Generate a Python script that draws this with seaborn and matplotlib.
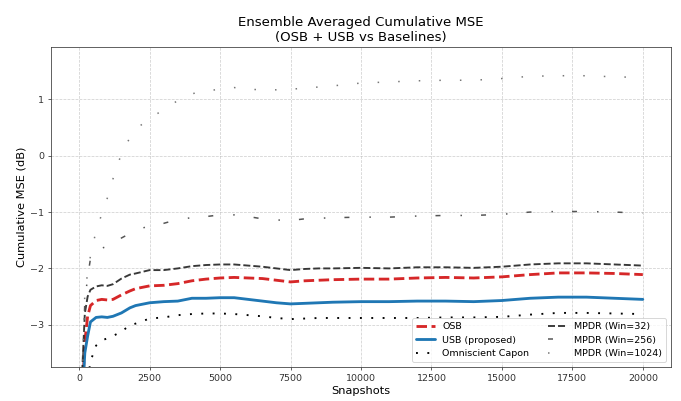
import matplotlib
matplotlib.use("Agg")
import matplotlib.pyplot as plt
import numpy as np
import pandas as pd
import seaborn as sns

# Snapshot index at which each cumulative MSE value is reported
snapshots = [0, 100, 200, 300, 400, 600, 800, 1000, 1200, 1500, 1800, 2000,
             2500, 3000, 3500, 4000, 4500, 5000, 5500, 6000, 6500, 7000, 7500,
             8000, 8500, 9000, 10000, 11000, 12000, 13000, 14000, 15000, 16000,
             17000, 18000, 19000, 20000]

# Cumulative MSE (dB) per method
osb = [-6.5, -4.4, -3.3, -2.85, -2.66, -2.57, -2.55, -2.56, -2.55, -2.47, -2.40, -2.36,
       -2.31, -2.30, -2.27, -2.22, -2.19, -2.17, -2.16, -2.17, -2.18, -2.21, -2.24,
       -2.22, -2.21, -2.20, -2.19, -2.19, -2.17, -2.16, -2.17, -2.15, -2.11,
       -2.08, -2.08, -2.09, -2.11]
usb = [-6.5, -4.4, -3.5, -3.2, -2.95, -2.87, -2.86, -2.87, -2.85, -2.79, -2.70, -2.66,
       -2.61, -2.59, -2.58, -2.53, -2.53, -2.52, -2.52, -2.55, -2.58, -2.61, -2.63,
       -2.62, -2.61, -2.60, -2.59, -2.59, -2.58, -2.58, -2.59, -2.57, -2.53,
       -2.51, -2.51, -2.53, -2.55]
capon = [-7.0, -5.5, -4.6, -4.0, -3.65, -3.37, -3.28, -3.24, -3.20, -3.12, -3.01, -2.98,
         -2.89, -2.87, -2.83, -2.81, -2.80, -2.80, -2.81, -2.83, -2.85, -2.88, -2.90,
         -2.89, -2.88, -2.88, -2.88, -2.88, -2.88, -2.87, -2.87, -2.86, -2.82,
         -2.79, -2.79, -2.80, -2.81]
mpdr_32 = [-6.5, -3.9, -2.8, -2.5, -2.38, -2.32, -2.30, -2.31, -2.28, -2.18, -2.11, -2.09,
           -2.03, -2.03, -2.00, -1.96, -1.94, -1.93, -1.93, -1.95, -1.97, -2.00, -2.03,
           -2.01, -2.00, -2.00, -1.99, -2.00, -1.98, -1.98, -1.99, -1.97, -1.93,
           -1.91, -1.91, -1.93, -1.95]
mpdr_256 = [-7.0, -4.0, -2.6, -2.15, -1.83, -1.66, -1.64, -1.61, -1.57, -1.46, -1.38, -1.33,
            -1.24, -1.20, -1.13, -1.10, -1.08, -1.05, -1.05, -1.08, -1.12, -1.14, -1.15,
            -1.12, -1.11, -1.10, -1.09, -1.09, -1.07, -1.06, -1.06, -1.04, -1.00,
            -0.99, -0.99, -1.00, -1.02]
mpdr_1024 = [-8.0, -4.2, -2.45, -2.08, -1.78, -1.33, -1.04, -0.75, -0.41, 0.04, 0.32, 0.47,
             0.66, 0.82, 0.98, 1.10, 1.15, 1.18, 1.21, 1.18, 1.17, 1.17, 1.18,
             1.20, 1.22, 1.24, 1.29, 1.31, 1.33, 1.34, 1.34, 1.37, 1.41,
             1.42, 1.42, 1.40, 1.39]

labels = ["OSB", "USB (proposed)", "Omniscient Capon",
          "MPDR (Win=32)", "MPDR (Win=256)", "MPDR (Win=1024)"]
series = [osb, usb, capon, mpdr_32, mpdr_256, mpdr_1024]

frames = [pd.DataFrame({"Snapshots": snapshots, "MSE": vals, "Method": name})
          for name, vals in zip(labels, series)]
df = pd.concat(frames, ignore_index=True)

styles = {
    "OSB": dict(color="#d62728", lw=3.0, linestyle="--"),
    "USB (proposed)": dict(color="#1f77b4", lw=3.0, linestyle="-"),
    "Omniscient Capon": dict(color="black", lw=2.0, linestyle=(0, (1, 5))),
    "MPDR (Win=32)": dict(color="#222222", lw=2.0, linestyle="--", alpha=0.9),
    "MPDR (Win=256)": dict(color="#555555", lw=1.6, linestyle=(0, (3.3, 13.2, 1, 12.6))),
    "MPDR (Win=1024)": dict(color="#777777", lw=1.6, linestyle=(0, (1, 12.6))),
}

sns.set_style("ticks", rc={
    "axes.edgecolor": "#333333",
    "text.color": "black",
    "axes.labelcolor": "black",
    "xtick.color": "#333333", "ytick.color": "#333333",
    "xtick.labelcolor": "black", "ytick.labelcolor": "black",
    "xtick.major.size": 3.5, "ytick.major.size": 3.5,
    "xtick.major.width": 0.8, "ytick.major.width": 0.8,
})
plt.rcParams["font.family"] = ["DejaVu Sans"]

fig, ax = plt.subplots(figsize=(10, 401 / 68.1), dpi=68.1)
fig.subplots_adjust(left=51 / 681, right=671 / 681, bottom=34 / 401, top=354 / 401)

for name in labels:
    sub = df[df["Method"] == name]
    sns.lineplot(data=sub, x="Snapshots", y="MSE", ax=ax, label=name,
                 errorbar=None, **styles[name])

ax.set_xlim(-1000, 21000)
ax.set_ylim(-3.75, 1.93)
ax.grid(True, linestyle="--", color="#b0b0b0", alpha=0.6)
ax.set_title("Ensemble Averaged Cumulative MSE\n(OSB + USB vs Baselines)", fontsize=14)
ax.set_xlabel("Snapshots", fontsize=12)
ax.set_ylabel("Cumulative MSE (dB)", fontsize=12)
ax.tick_params(labelsize=10)
ax.legend(loc="lower right", ncol=2, fontsize=10)

fig.savefig("out.png", dpi=68.1)
